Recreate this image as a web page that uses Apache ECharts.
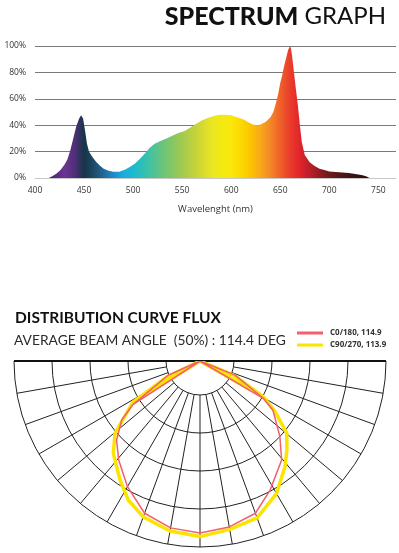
<!DOCTYPE html>
<html>
<head>
<meta charset="utf-8">
<script src="https://cdn.jsdelivr.net/npm/echarts@6/dist/echarts.min.js"></script>
<style>
  html, body { margin: 0; padding: 0; background: #fff; }
  #chart { width: 399px; height: 553px; }
</style>
</head>
<body>
<div id="chart"></div>
<script>
// spectrum: wavelength (nm) / relative power (%)
const wavelengths = [414, 418, 422, 426, 430, 433, 436, 439, 442, 445, 447, 449, 451, 453, 455, 458, 462, 466, 470, 475,
  480, 486, 492, 497, 502, 507, 512, 517, 522, 528, 534, 540, 546, 552, 558, 564, 570, 576, 582, 588,
  594, 600, 606, 612, 618, 622, 626, 630, 635, 640, 643, 646, 648, 650, 652, 654, 656, 658, 660, 661,
  662, 664, 666, 668, 670, 672, 675, 680, 685, 690, 695, 700, 710, 720, 728, 734, 738, 741];
const relPower = [0, 1.5, 3.5, 6, 10, 14, 21, 30, 39, 45, 47.5, 45, 36, 26, 20, 16.5, 12.5, 9.5, 7, 5.5,
  4.8, 4.8, 6.5, 8.5, 11, 14.5, 18.5, 23, 26, 28, 30, 32, 34, 35.5, 38, 41, 43.5, 45.5, 47, 48,
  48, 47.5, 46, 44.5, 42, 40.5, 40, 40.5, 42.5, 46, 50, 58, 64, 72, 78, 85, 91, 97, 100, 98,
  93, 80, 67, 55, 40, 27, 17.5, 12, 9, 7, 6, 5, 4.3, 3.7, 2.8, 2, 1.2, 0];

// colour of light every 10 nm from 400 to 760
const spectrumColors = ['#3b1f5a', '#45226a', '#552a80', '#6a3594', '#52307a', '#173448', '#1e4a66', '#24689a',
  '#1c8cc8', '#19ace0', '#1cbad0', '#2fbfb6', '#4cc29a', '#6ac47c', '#86c664', '#a2ca50', '#bcd040',
  '#d4d930', '#e8e522', '#f3ea14', '#f9e80a', '#fcd900', '#fdc300', '#f9a71c', '#f48726', '#ef6129',
  '#ea3c2c', '#e1242b', '#bc1f27', '#921b22', '#6e1a1c', '#561616', '#441313', '#361010', '#2a0d0d',
  '#220b0b', '#1a0808'];

const yTicks = [0, 20, 40, 60, 80, 100];
const xTicks = [400, 450, 500, 550, 600, 650, 700, 750];

// distribution curves: angle from nadir (deg) / intensity (% of outer ring)
const c0Angle = [-57, -90, -66, -57, -53, -46.5, -39.5, -30, -20, -10, 0, 10, 20, 28.5, 39.5, 46.6, 56, 59.5, 68, 90, 59.5];
const c0Value = [43, 0, 18.8, 43, 52.7, 61.8, 68.8, 78, 87.1, 91.1, 92.5, 90.6, 87.1, 79, 69, 59.1, 47.3, 39.5, 20.3, 0, 39.5];
const c90Angle = [-58.5, -90, -64, -58.5, -55.6, -49.6, -43.2, -33.9, -27.3, -20, -10, 0, 10, 20, 30, 38.8, 44.3, 50.2, 56, 60.6, 67, 90, 60.6];
const c90Value = [42.3, 0, 20.4, 42.3, 46.7, 60, 68.1, 77.1, 84.1, 89.2, 92.8, 94.4, 91.9, 89.8, 82.3, 72.9, 66.9, 60.7, 48.7, 39, 19.9, 0, 39];

const c0Name = 'C0/180, 114.9';
const c90Name = 'C90/270, 113.9';

let mychart = echarts.init(document.getElementById('chart'));

const gridLine = { color: '#222', width: 1 };

mychart.setOption({
    animation: false,
    title: [
        {
            text: '{a|SPECTRUM}{b| GRAPH}',
            right: 13,
            top: 4,
            padding: 0,
            textStyle: {
                rich: {
                    a: { fontFamily: 'Lato', fontWeight: 900, fontSize: 25, color: '#111' },
                    b: { fontFamily: 'Lato', fontWeight: 'normal', fontSize: 24, color: '#111' }
                }
            }
        },
        {
            text: 'DISTRIBUTION CURVE FLUX',
            left: 15,
            top: 310,
            padding: 0,
            textStyle: { fontFamily: 'Lato', fontWeight: 'bold', fontSize: 15.5, color: '#111' }
        },
        {
            text: 'AVERAGE BEAM ANGLE  (50%) : 114.4 DEG',
            left: 14,
            top: 334,
            padding: 0,
            textStyle: { fontFamily: 'Lato', fontWeight: 'normal', fontSize: 13.8, color: '#2a2a2a' }
        }
    ],
    legend: {
        data: [c0Name, c90Name],
        orient: 'vertical',
        left: 297,
        top: 329,
        padding: 0,
        icon: 'rect',
        itemWidth: 26,
        itemHeight: 3,
        itemGap: 4,
        textStyle: { fontFamily: 'Open Sans', fontWeight: 'bold', fontSize: 8, color: '#333', padding: [0, 0, 0, 2] }
    },
    grid: {
        left: 35,
        right: 0,
        top: 46,
        bottom: 375
    },
    xAxis: {
        type: 'value',
        min: 400,
        max: 768,
        interval: 50,
        name: 'Wavelenght (nm)',
        nameLocation: 'middle',
        nameGap: 26,
        nameTextStyle: { fontFamily: 'Open Sans', fontSize: 9.5, color: '#333' },
        axisLine: { lineStyle: { color: '#c8c8c8' } },
        axisTick: { show: false },
        splitLine: { show: false },
        axisLabel: {
            fontFamily: 'Open Sans',
            fontSize: 8.5,
            color: '#333',
            margin: 8,
            formatter: function (v) { return xTicks.indexOf(v) >= 0 ? String(v) : ''; }
        }
    },
    yAxis: {
        type: 'value',
        min: yTicks[0],
        max: yTicks[yTicks.length - 1],
        interval: 20,
        axisLine: { show: false },
        axisTick: { show: false },
        splitLine: { lineStyle: { color: '#7a7a7a', width: 1 } },
        axisLabel: {
            fontFamily: 'Open Sans',
            fontSize: 8.5,
            color: '#333',
            margin: 9,
            formatter: '{value}%'
        }
    },
    visualMap: {
        type: 'continuous',
        show: false,
        seriesIndex: 0,
        dimension: 0,
        min: 400,
        max: 760,
        inRange: { color: spectrumColors }
    },
    polar: [
        { center: [200, 361], radius: [34, 186] },
        { center: [200, 361], radius: [0, 186] }
    ],
    angleAxis: [
        {
            polarIndex: 0,
            type: 'value',
            min: -90,
            max: 90,
            interval: 10,
            startAngle: 180,
            endAngle: 360,
            clockwise: false,
            axisLine: { show: false },
            axisTick: { show: false },
            axisLabel: { show: false },
            splitLine: { show: true, lineStyle: gridLine }
        },
        {
            polarIndex: 1,
            type: 'value',
            min: -90,
            max: 90,
            interval: 180,
            startAngle: 180,
            endAngle: 360,
            clockwise: false,
            axisLine: { show: false },
            axisTick: { show: false },
            axisLabel: { show: false },
            splitLine: { show: true, lineStyle: { color: '#111', width: 2 } }
        }
    ],
    radiusAxis: [
        {
            polarIndex: 0,
            type: 'value',
            min: 0,
            max: 4,
            interval: 1,
            axisLine: { show: false },
            axisTick: { show: false },
            axisLabel: { show: false },
            splitLine: { show: true, lineStyle: gridLine }
        },
        {
            polarIndex: 1,
            type: 'value',
            min: 0,
            max: 100,
            axisLine: { show: false },
            axisTick: { show: false },
            axisLabel: { show: false },
            splitLine: { show: false }
        }
    ],
    series: [
        {
            name: 'spectrum',
            type: 'line',
            data: wavelengths.map((w, i) => [w, relPower[i]]),
            symbol: 'none',
            lineStyle: { width: 0 },
            areaStyle: { opacity: 1 },
            silent: true
        },
        {
            name: c90Name,
            type: 'line',
            coordinateSystem: 'polar',
            polarIndex: 1,
            data: c90Angle.map((a, i) => [c90Value[i], a]),
            symbol: 'none',
            itemStyle: { color: '#fbe400' },
            lineStyle: { color: '#fbe400', width: 3.5 }
        },
        {
            name: c0Name,
            type: 'line',
            coordinateSystem: 'polar',
            polarIndex: 1,
            data: c0Angle.map((a, i) => [c0Value[i], a]),
            symbol: 'none',
            itemStyle: { color: '#f1606c' },
            lineStyle: { color: '#f1606c', width: 1.5 }
        }
    ]
});
</script>
</body>
</html>
